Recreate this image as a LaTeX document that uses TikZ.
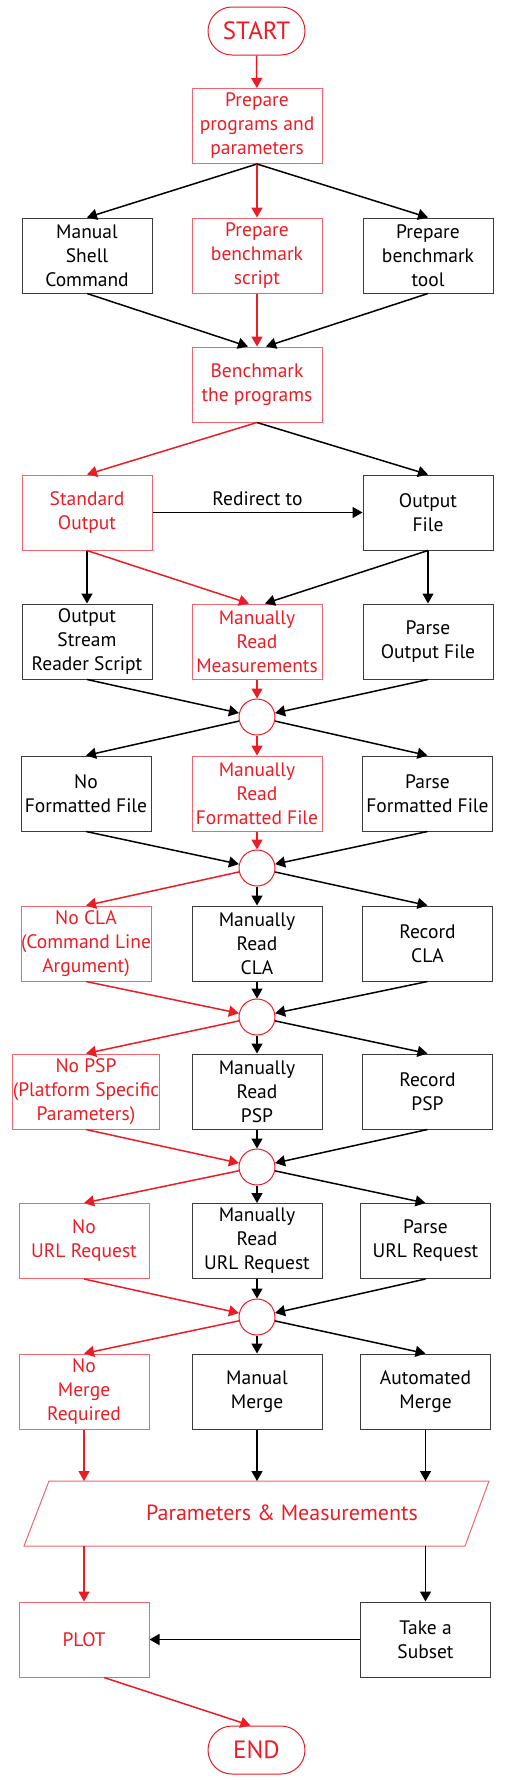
\documentclass[tikz,border=0pt]{standalone}
\usepackage{fontspec}
\setmainfont{PT Sans}
\usetikzlibrary{arrows.meta,shapes.misc}
\definecolor{myred}{RGB}{237,28,36}
\definecolor{boxred}{RGB}{242,100,110}
\definecolor{boxgray}{RGB}{60,60,60}
\tikzset{
  boxnode/.style={draw=boxgray, line width=1pt, minimum width=130pt, minimum height=75pt,
    align=center, inner sep=0pt, font=\fontsize{19.5}{24}\selectfont},
  rboxnode/.style={boxnode, draw=boxred, text=myred},
  termnode/.style={rounded rectangle, draw=myred, line width=1pt, text=myred,
    minimum width=97pt, minimum height=48pt, inner sep=0pt, font=\fontsize{25}{30}\selectfont},
  juncnode/.style={circle, draw=myred, line width=1pt, minimum size=36pt, inner sep=0pt},
  blk/.style={draw=black, line width=1.5pt, -{Triangle[length=10pt,width=11pt]}},
  rd/.style={draw=myred, line width=1.5pt, -{Triangle[length=10pt,width=11pt]}},
}
\begin{document}
\begin{tikzpicture}[x=1pt,y=-1pt]
\useasboundingbox (0,0) rectangle (504,1780);
% nodes
\node[termnode] (start) at (256.5,31) {START};
\node[rboxnode] (prep) at (257,126) {Prepare\\programs and\\parameters};
\node[boxnode] (msc) at (87,255.5) {Manual\\Shell\\Command};
\node[rboxnode] (pbs) at (257,255.5) {Prepare\\benchmark\\script};
\node[boxnode] (pbt) at (428,255.5) {Prepare\\benchmark\\tool};
\node[rboxnode] (bench) at (257,384.5) {Benchmark\\the programs};
\node[rboxnode] (stdo) at (87,512.5) {Standard\\Output};
\node[boxnode] (ofile) at (428,512.5) {Output\\File};
\node[boxnode] (osrs) at (87,641.5) {Output\\Stream\\Reader Script};
\node[rboxnode] (mrm) at (257,641.5) {Manually\\Read\\Measurements};
\node[boxnode] (pof) at (428,641.5) {Parse\\Output File};
\node[juncnode] (c1) at (257,717) {};
\node[boxnode] (nff) at (86,793.5) {No\\Formatted File};
\node[rboxnode] (mrff) at (257,793.5) {Manually\\Read\\Formatted File};
\node[boxnode] (pff) at (427.5,793.5) {Parse\\Formatted File};
\node[juncnode] (c2) at (257,868) {};
\node[rboxnode] (ncla) at (86,943.5) {No CLA\\(Command Line\\Argument)};
\node[boxnode] (mrcla) at (257,943.5) {Manually\\Read\\CLA};
\node[boxnode] (rcla) at (427.5,943.5) {Record\\CLA};
\node[juncnode] (c3) at (257,1017) {};
\node[rboxnode] (npsp) at (86,1091.5) {No PSP\\(Platform Specific\\Parameters)};
\node[boxnode] (mrpsp) at (257,1091.5) {Manually\\Read\\PSP};
\node[boxnode] (rpsp) at (427.5,1091.5) {Record\\PSP};
\node[juncnode] (c4) at (257,1167) {};
\node[rboxnode] (nurl) at (84,1241) {No\\URL Request};
\node[boxnode] (mrurl) at (257,1241) {Manually\\Read\\URL Request};
\node[boxnode] (purl) at (425.5,1241) {Parse\\URL Request};
\node[juncnode] (c5) at (257,1317) {};
\node[rboxnode] (nmr) at (84,1391.5) {No\\Merge\\Required};
\node[boxnode] (mm) at (257,1391.5) {Manual\\Merge};
\node[boxnode] (am) at (425.5,1391.5) {Automated\\Merge};
% parallelogram
\draw[draw=boxred, line width=1pt] (49,1481) -- (489,1481) -- (465,1546) -- (24,1546) -- cycle;
\node[text=myred, font=\fontsize{22}{26}\selectfont] (pm) at (282,1513) {Parameters \& Measurements};
\coordinate (pmA) at (84,1481);
\coordinate (pmB) at (257,1481);
\coordinate (pmC) at (425.5,1481);
\coordinate (pmD) at (84,1546);
\coordinate (pmE) at (425.5,1546);
\node[rboxnode] (plot) at (84,1639.5) {PLOT};
\node[boxnode] (tas) at (425.5,1639.5) {Take a\\Subset};
\node[termnode] (end) at (256.5,1750) {END};
% connectors
\draw[rd] (start) -- (prep);
\draw[blk] (prep.south) -- (msc.north);
\draw[rd] (prep.south) -- (pbs.north);
\draw[blk] (prep.south) -- (pbt.north);
\draw[blk] (msc.south) -- ([xshift=-9pt]bench.north);
\draw[rd] (pbs.south) -- (bench.north);
\draw[blk] (pbt.south) -- ([xshift=9pt]bench.north);
\draw[rd] (bench.south) -- (stdo.north);
\draw[blk] (bench.south) -- (ofile.north);
\draw[blk] (stdo.east) -- node[above=3pt, text=black, font=\fontsize{19.5}{24}\selectfont] {Redirect to} (ofile.west);
\draw[blk] (stdo.south) -- (osrs.north);
\draw[rd] (stdo.south) -- ([xshift=-8pt]mrm.north);
\draw[blk] (ofile.south) -- ([xshift=8pt]mrm.north);
\draw[blk] (ofile.south) -- (pof.north);
% junction 1
\draw[blk] (osrs.south) -- (c1);
\draw[rd] (mrm) -- (c1);
\draw[blk] (pof.south) -- (c1);
\draw[blk] (c1) -- (nff.north);
\draw[rd] (c1) -- (mrff);
\draw[blk] (c1) -- (pff.north);
% junction 2
\draw[blk] (nff.south) -- (c2);
\draw[rd] (mrff) -- (c2);
\draw[blk] (pff.south) -- (c2);
\draw[rd] (c2) -- (ncla.north);
\draw[blk] (c2) -- (mrcla);
\draw[blk] (c2) -- (rcla.north);
% junction 3
\draw[rd] (ncla.south) -- (c3);
\draw[blk] (mrcla) -- (c3);
\draw[blk] (rcla.south) -- (c3);
\draw[rd] (c3) -- (npsp.north);
\draw[blk] (c3) -- (mrpsp);
\draw[blk] (c3) -- (rpsp.north);
% junction 4
\draw[rd] (npsp.south) -- (c4);
\draw[blk] (mrpsp) -- (c4);
\draw[blk] (rpsp.south) -- (c4);
\draw[rd] (c4) -- (nurl.north);
\draw[blk] (c4) -- (mrurl);
\draw[blk] (c4) -- (purl.north);
% junction 5
\draw[rd] (nurl.south) -- (c5);
\draw[blk] (mrurl) -- (c5);
\draw[blk] (purl.south) -- (c5);
\draw[rd] (c5) -- (nmr.north);
\draw[blk] (c5) -- (mm);
\draw[blk] (c5) -- (am.north);
% to parallelogram
\draw[rd] (nmr.south) -- (pmA);
\draw[blk] (mm.south) -- (pmB);
\draw[blk] (am.south) -- (pmC);
\draw[rd] (pmD) -- (plot.north);
\draw[blk] (pmE) -- (tas.north);
\draw[blk] (tas.west) -- (plot.east);
\draw[rd] ([xshift=20pt]plot.south) -- ([xshift=-6pt]end.north);
\end{tikzpicture}
\end{document}
